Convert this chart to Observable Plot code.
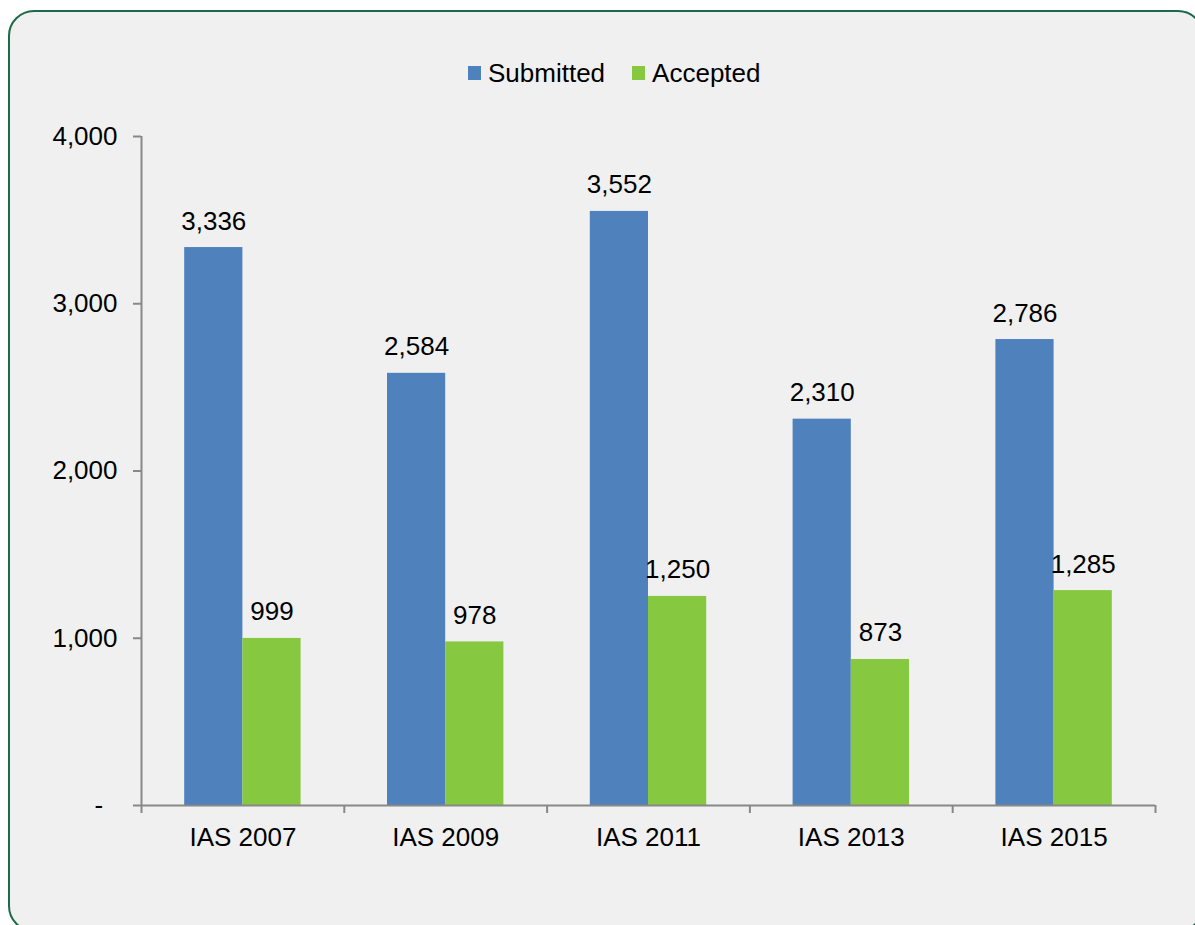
<!DOCTYPE html>
<html>
<head>
<meta charset="utf-8">
<script src="https://cdn.jsdelivr.net/npm/d3@7"></script>
<script src="https://cdn.jsdelivr.net/npm/@observablehq/plot@0.6"></script>
<style>
  html, body { margin: 0; padding: 0; background: #ffffff; width: 1195px; height: 925px; overflow: hidden; }
  body { position: relative; font-family: Arial, "Liberation Sans", sans-serif; }
  #box { position: absolute; left: 8px; top: 10px; width: 1196px; height: 922px; box-sizing: border-box;
         border: 2px solid #1d6a4a; border-radius: 26px; background: #f0f0f0; }
  #legend { position: absolute; left: 468px; top: 58px; height: 30px; display: flex; align-items: center;
            font-size: 26px; color: #000; white-space: nowrap; }
  .sw { display: inline-block; width: 13px; height: 14px; margin-right: 7px; }
  .item { display: flex; align-items: center; margin-right: 27px; }
  #chart { position: absolute; left: 0; top: 100px; }
</style>
</head>
<body>
<div id="box"></div>
<div id="legend"></div>
<div id="chart"></div>
<script>
const categories = ["IAS 2007", "IAS 2009", "IAS 2011", "IAS 2013", "IAS 2015"];
const series = ["Submitted", "Accepted"];
const submitted = [3336, 2584, 3552, 2310, 2786];
const accepted = [999, 978, 1250, 873, 1285];
const colors = ["#4f81bd", "#86c940"];
const yTicks = [0, 1000, 2000, 3000, 4000];

// group layout within each category band (fractions of the band)
const groupPad = 0.213;
const barW = (1 - 2 * groupPad) / series.length;

const rows = [];
categories.forEach((c, i) => {
  [submitted, accepted].forEach((vals, s) => {
    const x1 = i + groupPad + s * barW;
    rows.push({category: c, series: series[s], value: vals[i], x1, x2: x1 + barW, xm: x1 + barW / 2});
  });
});

// legend
const legend = document.getElementById("legend");
series.forEach((s, k) => {
  const it = document.createElement("div");
  it.className = "item";
  const sw = document.createElement("span");
  sw.className = "sw";
  sw.style.background = colors[k];
  it.appendChild(sw);
  it.appendChild(document.createTextNode(s));
  legend.appendChild(it);
});

const fmt = d3.format(",");
const font = "Arial, 'Liberation Sans', sans-serif";

const chart = Plot.plot({
  width: 1195,
  height: 785,
  marginTop: 36,
  marginBottom: 80,
  marginLeft: 141,
  marginRight: 40,
  style: {background: "transparent", fontSize: "26px", fontFamily: font, color: "#000", overflow: "visible"},
  x: {type: "linear", domain: [0, categories.length], axis: null, label: null},
  y: {domain: [0, 4000], axis: null, label: null},
  color: {domain: series, range: colors},
  marks: [
    Plot.rectY(rows, {x1: "x1", x2: "x2", y1: 0, y2: "value", fill: "series"}),
    Plot.text(rows, {x: "xm", y: "value", text: d => fmt(d.value), lineAnchor: "bottom", dy: -18, fontSize: 26, fill: "#000"}),
    Plot.ruleX([0], {y1: 0, y2: 4000, stroke: "#888", strokeWidth: 2}),
    Plot.ruleY([0], {stroke: "#888", strokeWidth: 2}),
    Plot.axisY({ticks: yTicks, tickSize: 8, tickPadding: 16, stroke: "#888", strokeWidth: 2, fill: "#000", label: null,
      tickFormat: d => d === 0 ? "-\u00a0\u00a0" : fmt(d)}),
    Plot.axisX({ticks: d3.range(categories.length + 1), tickSize: 8, stroke: "#888", strokeWidth: 2, label: null, tickFormat: () => ""}),
    Plot.axisX({ticks: categories.map((c, i) => i + 0.5), tickSize: 0, tickPadding: 22, fill: "#000", label: null,
      tickFormat: d => categories[Math.floor(d)]})
  ]
});
document.getElementById("chart").appendChild(chart);
</script>
</body>
</html>
